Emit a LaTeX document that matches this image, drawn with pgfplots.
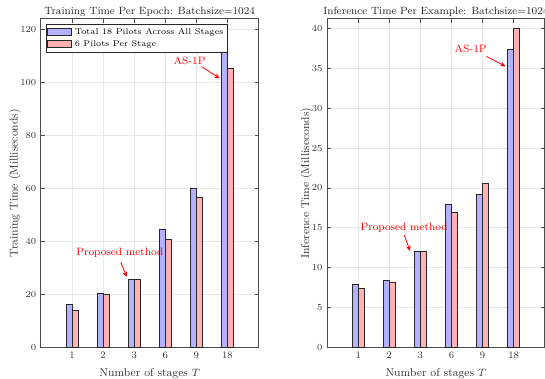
\documentclass[border=0pt]{standalone}
\usepackage{pgfplots}
\pgfplotsset{compat=1.18}
\usetikzlibrary{arrows.meta}
\definecolor{barblue}{RGB}{178,178,255}
\definecolor{barred}{RGB}{255,178,178}
\definecolor{edge}{RGB}{40,40,40}
\tikzset{
 ann/.style={red, font=\fontsize{8}{9}\selectfont},
 annarr/.style={red, line width=0.6pt, -{Stealth[length=4pt,width=3.5pt]}},
}
\pgfplotsset{
 mybase/.style={
  scale only axis, width=163.5pt, height=246.75pt,
  xmin=0, xmax=7, xtick={1,...,6}, xticklabels={1,2,3,6,9,18},
  ymin=0,
  grid=major, major grid style={gray!18, line width=0.6pt},
  tick align=inside, major tick length=3pt,
  axis line style={black!70, line width=0.8pt},
  tick style={black!70, line width=0.6pt},
  ticklabel style={font=\fontsize{7.5}{8}\selectfont, text=black!80},
  label style={font=\fontsize{8.5}{9}\selectfont, text=black!80},
  ylabel style={yshift=-7pt},
  title style={font=\fontsize{7.9}{9}\selectfont, text=black!85, yshift=-8pt},
  xlabel={Number of stages $T$},
  legend image code/.code={\draw[##1] (0pt,-2.5pt) rectangle (18pt,3pt);},
 },
 bblue/.style={ybar, bar width=0.19, bar shift=-0.095, fill=barblue, draw=edge, line width=0.6pt},
 bred/.style={ybar, bar width=0.19, bar shift=0.095, fill=barred, draw=edge, line width=0.6pt},
}
\begin{document}
\begin{tikzpicture}
\begin{axis}[mybase, at={(0pt,0pt)}, anchor=south west,
  ymax=124, ytick={0,20,...,120},
  title={Training Time Per Epoch: Batchsize=1024},
  ylabel={Training Time (Milliseconds)},
  legend style={at={(0.022,0.985)}, anchor=north west, draw=black!85, line width=0.6pt,
    font=\fontsize{6.3}{7.5}\selectfont, inner sep=1pt, row sep=-1pt, cells={anchor=west}},
]
\addplot[bblue] coordinates {(1,16.3) (2,20.4) (3,25.7) (4,44.4) (5,60.1) (6,112.5)};
\addplot[bred] coordinates {(1,13.8) (2,19.9) (3,25.7) (4,40.9) (5,56.7) (6,105.2)};
\legend{Total 18 Pilots Across All Stages, 6 Pilots Per Stage}
\node[ann] at (axis cs:4.78,108.3) {AS-1P};
\draw[annarr] (axis cs:5.17,106) -- (axis cs:5.75,101.6);
\node[ann] at (axis cs:2.54,35.6) {Proposed method};
\draw[annarr] (axis cs:2.57,32.1) -- (axis cs:2.76,26.6);
\end{axis}
\begin{axis}[mybase, at={(215pt,0pt)}, anchor=south west,
  ymax=41.2, ytick={0,5,...,40},
  title={Inference Time Per Example: Batchsize=1024},
  ylabel={Inference Time (Milliseconds)},
]
\addplot[bblue] coordinates {(1,7.92) (2,8.34) (3,12.05) (4,17.9) (5,19.2) (6,37.4)};
\addplot[bred] coordinates {(1,7.34) (2,8.21) (3,12.05) (4,16.9) (5,20.56) (6,40.0)};
\node[ann] at (axis cs:4.62,37.5) {AS-1P};
\draw[annarr] (axis cs:5.13,36.5) -- (axis cs:5.74,35.25);
\node[ann] at (axis cs:2.48,15.04) {Proposed method};
\draw[annarr] (axis cs:2.48,14.1) -- (axis cs:2.67,12.1);
\end{axis}
\pgfresetboundingbox
\useasboundingbox (-30.75pt,-23.25pt) rectangle (378.75pt,261pt);
\end{tikzpicture}
\end{document}
